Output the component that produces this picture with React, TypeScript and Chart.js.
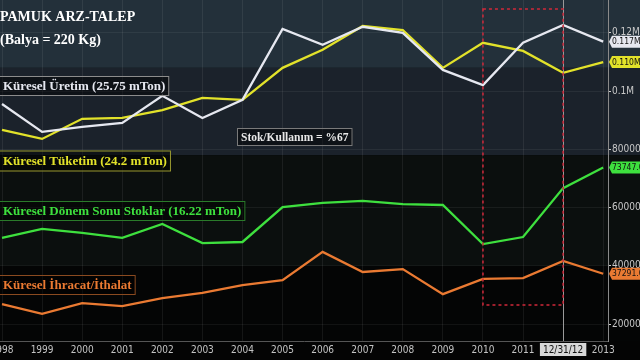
import React, { useEffect, useRef } from "react";
import { Chart, registerables } from "chart.js";
Chart.register(...registerables);

const years = [1998, 1999, 2000, 2001, 2002, 2003, 2004, 2005, 2006, 2007, 2008, 2009, 2010, 2011, 2012, 2013];
const production = [95600, 86000, 87700, 89100, 98400, 90800, 97000, 121400, 115900, 122100, 120000, 107300, 102100, 116600, 122700, 117000];
const consumption = [86700, 83600, 90500, 90800, 93500, 97700, 97000, 108000, 114200, 122400, 121000, 108000, 116600, 113800, 106300, 110000];
const stocks = [49600, 52700, 51300, 49600, 54400, 47800, 48200, 60200, 61600, 62300, 61200, 60900, 47500, 49900, 66700, 73747];
const trade = [26900, 23500, 27200, 26200, 28900, 30700, 33400, 35100, 44800, 37900, 38900, 30300, 35500, 35800, 41700, 37291];
const yTicks = [20000, 40000, 60000, 80000, 100000, 120000];
const lastLabels = ["0.117M", "0.110M", "73747.0", "37291.0"];
const seriesNames = [
  "Küresel Üretim (25.75 mTon)",
  "Küresel Tüketim (24.2 mTon)",
  "Küresel Dönem Sonu Stoklar (16.22 mTon)",
  "Küresel İhracat/İthalat",
];
const titleLines = ["PAMUK ARZ-TALEP", "(Balya = 220 Kg)"];
const ratioText = "Stok/Kullanım = %67";
const markerYear = 2012;
const markerLabel = "12/31/12";
const highlightYears = [2010, 2012];
const highlightRange = [128250, 26540];
const bands = [
  [131300, 108000, "#23303a"],
  [108000, 78000, "#1b222b"],
  [78000, 40000, "#0b0f0e"],
  [40000, 14200, "#040505"],
];

const colors = ["#e6e8f0", "#e2e22a", "#3ee03e", "#ea7a32"];
const borders = ["#8c8c8c", "#9a9a30", "#2a7a2a", "#8a4a20"];

const serifBold = 'bold 13px "Liberation Serif", "DejaVu Serif", serif';
const axisFont = '"Liberation Sans Narrow", "DejaVu Sans Condensed", sans-serif';

function labelBox(ctx: CanvasRenderingContext2D, text: string, x: number, yc: number, color: string, border: string, font: string, h: number) {
  ctx.save();
  ctx.font = font;
  const w = ctx.measureText(text).width + 8;
  ctx.fillStyle = "rgba(0,0,0,0.45)";
  ctx.fillRect(x, yc - h / 2, w, h);
  ctx.strokeStyle = border;
  ctx.lineWidth = 1;
  ctx.strokeRect(x + 0.5, yc - h / 2 + 0.5, w - 1, h - 1);
  ctx.fillStyle = color;
  ctx.textBaseline = "middle";
  ctx.textAlign = "left";
  ctx.fillText(text, x + 4, yc + 1);
  ctx.restore();
}

const decorPlugin = {
  id: "decor",
  beforeDraw(chart: any) {
    const { ctx, width, height } = chart;
    const y = chart.scales.y;
    ctx.save();
    ctx.fillStyle = "#040404";
    ctx.fillRect(0, 0, width, height);
    for (const [a, b, c] of bands as any) {
      const ya = y.getPixelForValue(a);
      const yb = Math.min(y.getPixelForValue(b), chart.chartArea.bottom);
      ctx.fillStyle = c;
      ctx.fillRect(0, ya, width, yb - ya);
    }
    ctx.restore();
  },
  afterDatasetsDraw(chart: any) {
    const { ctx, chartArea } = chart;
    const x = chart.scales.x;
    const y = chart.scales.y;
    ctx.save();
    const mx = Math.round(x.getPixelForValue(markerYear)) + 0.5;
    ctx.strokeStyle = "#9a9a9a";
    ctx.lineWidth = 1;
    ctx.beginPath();
    ctx.moveTo(mx, 0);
    ctx.lineTo(mx, chartArea.bottom);
    ctx.stroke();
    const x1 = x.getPixelForValue(highlightYears[0]);
    const x2 = x.getPixelForValue(highlightYears[1]);
    const y1 = y.getPixelForValue(highlightRange[0]);
    const y2 = y.getPixelForValue(highlightRange[1]);
    ctx.strokeStyle = "#d0283a";
    ctx.lineWidth = 1.5;
    ctx.setLineDash([3, 3]);
    ctx.strokeRect(x1, y1, x2 - x1, y2 - y1);
    ctx.setLineDash([]);
    ctx.fillStyle = "#ffffff";
    ctx.font = 'bold 14px "Liberation Serif", "DejaVu Serif", serif';
    ctx.textBaseline = "middle";
    ctx.fillText(titleLines[0], 0, 17);
    ctx.fillText(titleLines[1], 0, 40);
    labelBox(ctx, seriesNames[0], -1, 86, colors[0], borders[0], serifBold, 20);
    labelBox(ctx, seriesNames[1], -1, 161, colors[1], borders[1], serifBold, 21);
    labelBox(ctx, seriesNames[2], -1, 211, colors[2], borders[2], serifBold, 20);
    labelBox(ctx, seriesNames[3], -1, 285, colors[3], borders[3], serifBold, 20);
    labelBox(ctx, ratioText, 237, 137, "#e8e8e8", "#7a7a7a", 'bold 11.5px "Liberation Serif", "DejaVu Serif", serif', 18);
    ctx.restore();
  },
  afterDraw(chart: any) {
    const { ctx, chartArea } = chart;
    const x = chart.scales.x;
    const y = chart.scales.y;
    ctx.save();
    const mx = x.getPixelForValue(markerYear);
    ctx.font = "10px " + axisFont;
    const tw = ctx.measureText(markerLabel).width + 6;
    ctx.fillStyle = "#d8d8d8";
    ctx.fillRect(mx - tw / 2, chartArea.bottom + 2, tw, 13);
    ctx.fillStyle = "#111";
    ctx.textAlign = "center";
    ctx.textBaseline = "middle";
    ctx.fillText(markerLabel, mx, chartArea.bottom + 9);
    chart.data.datasets.forEach((ds: any, i: number) => {
      const last = ds.data[ds.data.length - 1].y;
      const py = y.getPixelForValue(last);
      const left = chartArea.right + 1;
      ctx.fillStyle = colors[i];
      ctx.beginPath();
      ctx.moveTo(left, py);
      ctx.lineTo(left + 3, py - 6);
      ctx.lineTo(640, py - 6);
      ctx.lineTo(640, py + 6);
      ctx.lineTo(left + 3, py + 6);
      ctx.closePath();
      ctx.fill();
      ctx.fillStyle = "#111";
      ctx.font = "8.5px " + axisFont;
      ctx.textAlign = "left";
      ctx.textBaseline = "middle";
      ctx.fillText(lastLabels[i], left + 3, py + 0.5);
    });
    ctx.restore();
  },
};

export default function App() {
  const ref = useRef<HTMLCanvasElement | null>(null);
  useEffect(() => {
    document.body.style.margin = "0";
    const series = [production, consumption, stocks, trade];
    const chart = new Chart(ref.current as HTMLCanvasElement, {
      type: "line",
      data: {
        datasets: series.map((s, i) => ({
          label: seriesNames[i],
          data: years.map((yr, j) => ({ x: yr, y: s[j] })),
          borderColor: colors[i],
          borderWidth: 2.3,
          pointRadius: 0,
          tension: 0,
        })),
      },
      options: {
        animation: false,
        responsive: false,
        layout: { padding: 0 },
        plugins: { legend: { display: false }, tooltip: { enabled: false } },
        scales: {
          x: {
            type: "linear",
            min: 1997.95,
            max: 2013.12,
            afterBuildTicks: (s: any) => {
              s.ticks = years.map((v) => ({ value: v }));
            },
            afterFit: (s: any) => {
              s.height = 19;
              s.paddingLeft = 0;
              s.paddingRight = 0;
            },
            ticks: {
              autoSkip: false,
              maxRotation: 0,
              padding: 3,
              color: "#c4c4c4",
              font: { size: 10, family: axisFont },
              callback: (v: any) => (v === markerYear ? "" : String(v)),
            },
            grid: { color: "rgba(255,255,255,0.07)", drawTicks: false },
            border: { color: "#555" },
          },
          y: {
            position: "right",
            min: 14200,
            max: 131300,
            afterBuildTicks: (s: any) => {
              s.ticks = yTicks.map((v) => ({ value: v }));
            },
            afterFit: (s: any) => {
              s.width = 32;
              s.paddingTop = 0;
              s.paddingBottom = 0;
            },
            ticks: {
              padding: 1,
              color: "#c8c8c8",
              font: { size: 10, family: axisFont },
              callback: (v: any) => (v >= 100000 ? v / 1000000 + "M" : String(v)),
            },
            grid: { color: "rgba(255,255,255,0.06)", tickLength: 3, tickColor: "#cccccc" },
            border: { color: "#8a8a8a" },
          },
        },
      },
      plugins: [decorPlugin],
    } as any);
    return () => chart.destroy();
  }, []);
  return (
    <div style={{ position: "absolute", left: 0, top: 0, width: 640, height: 360 }}>
      <canvas ref={ref} width={640} height={360} />
    </div>
  );
}
